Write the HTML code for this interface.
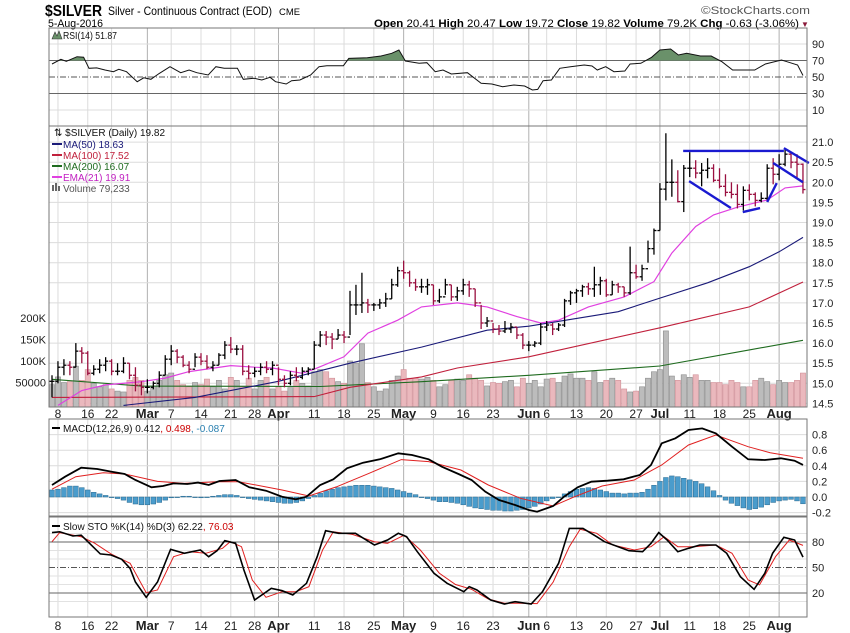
<!DOCTYPE html>
<html><head><meta charset="utf-8"><style>
html,body{margin:0;padding:0;background:#fff;width:850px;height:633px;overflow:hidden}
svg{display:block}
text{font-family:"Liberation Sans",sans-serif}
</style></head><body>
<svg id="chart" width="850" height="633" viewBox="0 0 850 633" xmlns="http://www.w3.org/2000/svg">
<g id="header">
<text x="45" y="16" font-size="16" font-weight="bold" textLength="57" lengthAdjust="spacingAndGlyphs">$SILVER</text>
<text x="108" y="15" font-size="12" textLength="164" lengthAdjust="spacingAndGlyphs">Silver - Continuous Contract (EOD)</text>
<text x="279" y="15" font-size="9" textLength="21" lengthAdjust="spacingAndGlyphs">CME</text>
<text x="48" y="27" font-size="11" textLength="55" lengthAdjust="spacingAndGlyphs">5-Aug-2016</text>
<text x="701" y="14" font-size="11" fill="#555" textLength="109" lengthAdjust="spacingAndGlyphs">©StockCharts.com</text>
<text x="374" y="27" font-size="11" textLength="425" lengthAdjust="spacingAndGlyphs"><tspan font-weight="bold">Open</tspan> 20.41 <tspan font-weight="bold">High</tspan> 20.47 <tspan font-weight="bold">Low</tspan> 19.72 <tspan font-weight="bold">Close</tspan> 19.82 <tspan font-weight="bold">Volume</tspan> 79.2K <tspan font-weight="bold">Chg</tspan> -0.63 (-3.06%)</text>
<text x="801" y="27" font-size="8" fill="#8b1a3a">▼</text>
</g>
<g id="grid"></g>
<g id="panes"></g>
<g id="marks"></g>
<g id="labels"></g>
</svg>
<script>
// ---------- data ----------
const priceHigh=[15.2,15.55,15.6,15.55,16.0,15.9,15.8,15.45,15.6,15.65,15.6,15.5,15.65,15.5,15.4,15.05,
15.1,15.05,15.3,15.7,15.95,15.85,15.7,15.55,15.75,15.75,15.7,15.55,15.75,16.05,16.15,15.95,15.95,15.45,15.4,15.5,15.55,15.55,
15.4,15.2,15.3,15.4,15.4,15.4,16.05,16.3,16.3,16.25,16.35,16.3,17.3,17.45,17.75,17.1,17.0,17.1,17.25,17.6,17.9,
18.05,17.8,17.6,17.6,17.6,17.45,17.35,17.6,17.45,17.4,17.6,17.55,17.35,16.95,16.65,16.5,16.45,16.55,16.5,16.4,16.25,
16.05,16.05,16.5,16.55,16.5,16.5,17.1,17.3,17.35,17.45,17.5,17.9,17.65,17.6,17.55,17.5,17.4,18.4,17.95,17.95,18.55,18.85,
19.98,21.22,20.57,20.3,20.43,20.75,20.55,20.48,20.6,20.45,20.35,20.2,20.0,19.95,19.9,19.95,19.75,19.75,20.45,20.6,
20.7,20.85,20.75,20.7,20.47];
const priceLow=[14.65,15.0,15.2,15.2,15.4,15.5,15.2,15.2,15.25,15.3,15.2,15.2,15.25,15.1,14.8,14.7,
14.75,14.85,14.9,15.2,15.45,15.5,15.4,15.25,15.4,15.45,15.35,15.3,15.45,15.6,15.75,15.7,15.2,15.1,15.15,15.2,15.25,15.2,
14.95,14.9,14.95,15.05,15.1,15.2,15.35,15.9,15.95,15.85,16.1,16.0,16.2,16.7,16.75,16.75,16.8,16.85,16.9,17.1,17.4,
17.6,17.4,17.3,17.25,17.2,16.95,17.0,17.2,17.05,17.05,17.2,17.15,16.9,16.35,16.4,16.25,16.2,16.25,16.25,16.1,15.85,
15.8,15.9,15.95,16.3,16.2,16.3,16.4,16.95,17.0,17.15,17.2,17.15,17.2,17.15,17.2,17.25,17.15,17.2,17.6,17.55,18.0,18.2,
18.8,19.55,19.64,19.5,19.26,20.13,20.1,19.9,20.1,20.0,19.85,19.65,19.6,19.35,19.3,19.55,19.4,19.5,19.55,19.95,
20.05,20.4,20.35,20.1,19.72];
const priceClose=[15.05,15.4,15.45,15.4,15.8,15.75,15.25,15.35,15.45,15.55,15.3,15.3,15.5,15.2,14.95,14.9,
14.9,15.0,15.2,15.6,15.8,15.65,15.45,15.35,15.65,15.55,15.4,15.45,15.7,15.95,15.85,15.85,15.3,15.25,15.3,15.4,15.35,15.45,
15.1,15.0,15.2,15.15,15.3,15.35,15.95,16.2,16.15,16.1,16.2,16.15,16.95,16.95,17.0,16.95,16.95,17.0,17.1,17.45,17.8,
17.75,17.5,17.4,17.4,17.45,17.05,17.15,17.45,17.15,17.3,17.45,17.35,17.0,16.5,16.55,16.35,16.3,16.35,16.4,16.2,15.95,
15.95,16.0,16.4,16.45,16.35,16.45,17.05,17.25,17.3,17.4,17.35,17.45,17.55,17.2,17.45,17.4,17.25,17.75,17.65,17.85,18.35,18.8,
19.83,20.0,20.0,19.52,20.35,20.35,20.23,20.3,20.35,20.05,19.9,19.75,19.7,19.45,19.8,19.7,19.55,19.6,20.35,20.2,
20.45,20.7,20.5,20.45,19.82];
const volumeK=[45,63,50,52,88,55,80,48,40,45,35,30,28,55,62,55,
30,42,55,68,72,55,45,40,50,45,58,40,55,35,62,55,40,60,35,55,62,35,
40,30,38,55,48,42,75,80,75,60,52,48,100,95,140,50,40,30,35,55,65,
80,60,60,58,62,55,40,45,55,58,55,68,60,55,42,50,48,52,55,40,60,
48,55,40,58,60,50,65,70,60,60,55,75,50,55,60,55,35,28,30,40,60,75,
80,170,65,55,68,62,68,55,55,50,50,45,55,50,40,40,55,60,52,45,
55,50,50,55,72];
const ma50Idx=[12,24,38,50,62,73,80,95,102,110,117,122,126];
const ma50Val=[14.45,14.65,15.05,15.5,15.9,16.32,16.42,16.78,17.12,17.5,17.9,18.27,18.63];
const ma100Idx=[0,44,50,62,68,80,102,117,126];
const ma100Val=[14.65,14.67,14.9,15.16,15.38,15.66,16.38,16.9,17.52];
const ma200Idx=[0,15,45,62,80,102,117,126];
const ma200Val=[15.1,14.93,14.92,15.04,15.2,15.43,15.83,16.07];
const emaIdx=[1,5,9,15,19,23,30,34,37,42,44,49,53,58,62,68,73,78,82,85,90,96,101,104,108,111,115,120,123,126];
const emaVal=[14.45,14.82,14.96,15.04,15.13,15.29,15.44,15.4,15.38,15.25,15.35,15.66,16.25,16.57,16.9,17.0,16.9,16.66,16.5,16.57,16.9,17.15,17.53,18.24,18.9,19.19,19.38,19.56,19.86,19.91];
const rsiIdx=[0,1.5,2.4,4.2,5.3,6.2,7.5,8.9,10.3,11.2,12.5,14.3,15.4,16.6,18,19.8,21.6,23,24.3,26.2,27.5,28.9,31.1,32.1,33.9,35.2,36.6,37.5,39.3,40.2,41.6,43.4,44.8,46.1,48.9,49.8,52.9,55.2,57,58.2,59.3,61.6,62.9,64.3,65.6,67,69.7,72,73.8,75.6,77.5,79.3,80.6,81.5,82.4,83.8,85.2,87,89.3,90.6,91.5,92.9,94.3,96.1,97,98.8,100.6,102,103.8,105.1,106.5,108.8,110.6,112.4,114.2,116,117.9,119.7,122.4,123.3,125.1,126];
const rsiVal=[65.8,71.5,69,74.6,74,60.5,61,58.5,56.4,59.3,56.4,44.3,49,47.2,54.4,62.5,55.2,58.5,55.2,52.4,62.5,60.5,60.5,47.2,48.4,46.4,49.6,44.3,41.5,45.5,46.4,52.4,62.5,63.7,63.7,72.6,73.4,75.5,78.7,82.7,69.4,66.6,67.3,56.4,58.5,53.6,55.2,42.4,41.5,38.3,40.3,39.1,34.2,35,45.5,46.4,60.5,62.5,64.5,63.3,58.5,62.5,56.4,57.3,65.8,66.6,73.9,82.7,84,76.7,78.7,75.5,75.5,68.6,58.5,58.5,58.5,65.8,70.6,68.6,64.5,51.87];
const macdIdx=[0,2.2,4.9,7.6,9.9,12.2,14,16.7,18.6,20.4,22.7,24.5,26.3,28.1,30.8,33.1,35.9,38.6,40.9,42.7,45,47.2,49.5,52.2,55,58.1,60.4,63.2,65.4,68.2,70.4,72.7,75,77.7,80,81.4,84.1,85.9,88.2,90.5,93.2,95.9,98.6,100.5,102.3,104.6,106.8,109.1,111.4,114.1,116.8,119.6,122.3,124.6,126];
const macdVal=[0.154,0.26,0.376,0.359,0.325,0.295,0.218,0.124,0.141,0.175,0.167,0.184,0.154,0.205,0.218,0.124,0.081,0.004,-0.03,0.004,0.154,0.227,0.368,0.44,0.483,0.56,0.538,0.483,0.389,0.295,0.218,0.068,-0.038,-0.103,-0.167,-0.188,-0.115,0.004,0.124,0.196,0.209,0.227,0.282,0.41,0.688,0.752,0.859,0.88,0.816,0.645,0.483,0.474,0.496,0.465,0.412];
const signalIdx=[0,4,8.6,12.2,17.7,22.2,27.7,31.3,38.6,43.1,47.7,53.1,58.6,63.2,68.6,73.2,78.6,84.1,87.7,92.3,97.7,102.3,106.8,111.4,116.8,120.5,126];
const signalVal=[0.10,0.26,0.31,0.295,0.2,0.175,0.196,0.196,0.09,0.013,0.13,0.3,0.48,0.454,0.346,0.154,-0.017,-0.115,0.004,0.141,0.218,0.41,0.667,0.795,0.645,0.568,0.498];
const histVal=[0.09,0.1,0.12,0.14,0.14,0.12,0.09,0.06,0.04,0.02,0.0,-0.02,-0.04,-0.07,-0.09,-0.1,
-0.1,-0.09,-0.07,-0.04,-0.01,0,0.01,0.01,0,-0.01,0,0.01,0.02,0.03,0.03,0.02,0,-0.02,-0.03,-0.04,-0.05,-0.06,
-0.07,-0.08,-0.08,-0.07,-0.05,-0.02,0.02,0.05,0.08,0.1,0.12,0.13,0.14,0.15,0.15,0.15,0.14,0.13,0.12,0.11,0.09,
0.07,0.05,0.03,0.0,-0.02,-0.04,-0.06,-0.06,-0.07,-0.08,-0.1,-0.12,-0.14,-0.15,-0.16,-0.17,-0.17,-0.18,-0.18,-0.17,-0.16,
-0.14,-0.12,-0.09,-0.05,-0.02,0.0,0.04,0.07,0.1,0.11,0.12,0.11,0.09,0.07,0.05,0.05,0.04,0.05,0.05,0.06,0.1,0.15,
0.2,0.25,0.27,0.26,0.24,0.22,0.2,0.17,0.13,0.08,0.02,-0.04,-0.08,-0.11,-0.14,-0.16,-0.15,-0.13,-0.1,-0.07,
-0.05,-0.04,-0.03,-0.05,-0.087];
const stoKIdx=[0,1.3,3.5,4.9,6.3,8.1,9.9,11.7,13.1,14,15.8,17.7,19.9,22.2,24.9,26.3,27.7,29,30.8,32.2,34,36.8,38.6,40.4,42.7,44.5,45.9,48.1,50.9,54.1,56.3,58.1,59.5,61.3,64.1,66.3,69.1,70,71.3,73.6,75.9,77.7,80.4,82.3,85,86.8,89.1,91.4,92.7,95,96.8,99.1,100.5,101.8,103.2,105,106.8,108.7,111.4,113.2,115.5,117.8,119.6,120.9,122.8,124.6,126];
const stoKVal=[91,92,87,88,78.5,66,64.7,59.6,49,33,15,33,71.4,66.7,70.6,62.7,69.8,81.5,78.5,47,11.8,25.5,22.7,17.6,31.4,62.7,93.3,90.2,90.2,76.5,82.4,90.2,86.2,68.6,43.2,31.4,21.5,27.4,23.5,11.8,7,9.8,7,21.5,54.9,96,96,86.2,80.4,74.5,69.8,68.6,78.5,91,82.4,68.6,72.6,76.5,76.5,66.7,39.2,24.4,43.2,66.7,85.5,82.4,62.22];
const stoDIdx=[0,1.3,4.9,7.2,9.9,13.1,15.8,17.7,20.4,23.1,25.8,28.6,29.9,31.8,33.6,35.9,38.6,40.9,43.1,45.4,47.2,50.4,54.1,56.3,59.1,61.8,65,67.7,70.4,73.2,75.9,78.6,81.4,84.1,86.8,88.6,91.4,94.1,97.7,100.5,102.7,105,107.7,111.4,114.1,116.8,118.7,121.4,123.7,126];
const stoDVal=[80.4,91,86.2,78.5,66,55,20.4,23.5,62.7,68.6,66.7,72.6,80.4,74.5,35.3,15,21.5,21.5,27.4,70.6,92,89,80.4,78.5,88,70.6,43.2,30,24.4,13,8,8,7.5,33,74.5,95,90.2,76.5,70.6,74.5,86.2,74.5,74.5,76.5,66.7,35.3,29.5,62.7,82.4,76.03];
const dateTickIdx=[1,6,10,16,20,25,30,34,38,44,49,54,59,64,69,74,80,83,88,93,98,102,107,112,117,122];
const dateTickText=["8","16","22","Mar","7","14","21","28","Apr","11","18","25","May","9","16","23","Jun","6","13","20","27","Jul","11","18","25","Aug"];
const priceTicks=[14.5,15.0,15.5,16.0,16.5,17.0,17.5,18.0,18.5,19.0,19.5,20.0,20.5,21.0];
const volTicks=[50,100,150,200];
const volTickText=["50000","100K","150K","200K"];
const rsiTicks=[10,30,50,70,90];
const macdTicks=[-0.2,0,0.2,0.4,0.6,0.8];
const stoTicks=[20,50,80];
// annotation trendlines: [startIdx,startPrice,endIdx,endPrice]
const trendStartIdx=[105.9,122.8,106.9,115.9,120,121];
const trendStartPx=[20.78,20.85,20.03,19.26,19.51,20.48];
const trendEndIdx=[122.8,127,113.9,118.8,121.6,126];
const trendEndPx=[20.78,20.48,19.36,19.36,19.98,20.0];

// ---------- layout / axes ----------
const L=49,R=807;
const P={rsi:[28,126],price:[126,407],macd:[419,516],sto:[517,617]};
const bx=i=>52+i*5.96;
const py=p=>182.3-(p-20)*40.2;
const ry=v=>77-(v-50)*0.825;
const my=v=>497-v*78;
const sy=v=>567.5-(v-50)*0.85;
const vy=k=>404-k*0.43;
const NS="http://www.w3.org/2000/svg";
function mk(tag,attrs,parent){const e=document.createElementNS(NS,tag);for(const k in attrs)e.setAttribute(k,attrs[k]);parent.appendChild(e);return e;}
const gGrid=document.getElementById('grid'),gPanes=document.getElementById('panes'),gMarks=document.getElementById('marks'),gLab=document.getElementById('labels');
const months=new Set(["Mar","Apr","May","Jun","Jul","Aug"]);

// pane backgrounds & grid
for(const key in P){
  const [t,b]=P[key];
  // vertical grid
  dateTickIdx.forEach((di,j)=>{
    const ln=mk('line',{x1:bx(di),x2:bx(di),y1:t,y2:b,stroke:months.has(dateTickText[j])?'#b0b0b0':'#dcdcdc','stroke-width':1},gGrid);
    
    
  });
}
priceTicks.forEach(p=>{
  const ln=mk('line',{x1:L,x2:R,y1:py(p),y2:py(p),stroke:'#dcdcdc'},gGrid);
  
  
  const tx=mk('text',{x:812,y:py(p)+4,'font-size':11,fill:'#222'},gLab);tx.textContent=p.toFixed(1);
  
  
});
volTicks.forEach((k,j)=>{
  const tx=mk('text',{x:46,y:vy(k)+4,'font-size':11,'text-anchor':'end',fill:'#222'},gLab);tx.textContent=volTickText[j];
  
  
});
rsiTicks.forEach(v=>{
  const strong=(v===30||v===70);
  const ln=mk('line',{x1:L,x2:R,y1:ry(v),y2:ry(v),stroke:strong?'#666':(v===50?'#555':'#dcdcdc'),'stroke-dasharray':v===50?'6,2,1,2':'none'},gGrid);
  
  
  const tx=mk('text',{x:812,y:ry(v)+4,'font-size':11,fill:'#222'},gLab);tx.textContent=v;
  
  
});
macdTicks.forEach(v=>{
  const ln=mk('line',{x1:L,x2:R,y1:my(v),y2:my(v),stroke:'#dcdcdc'},gGrid);
  
  
  const tx=mk('text',{x:812,y:my(v)+4,'font-size':11,fill:'#222'},gLab);tx.textContent=v.toFixed(1);
  
  
});
[10,30,40,60,70,90].forEach(v=>{
  const ln=mk('line',{x1:L,x2:R,y1:sy(v),y2:sy(v),stroke:'#e2e2e2'},gGrid);
  
  
});
stoTicks.forEach(v=>{
  const ln=mk('line',{x1:L,x2:R,y1:sy(v),y2:sy(v),stroke:v===50?'#555':'#666','stroke-dasharray':v===50?'6,2,1,2':'none'},gGrid);
  
  
  const tx=mk('text',{x:812,y:sy(v)+4,'font-size':11,fill:'#222'},gLab);tx.textContent=v;
  
  
});
// date labels (two rows)
[418,630].forEach(yy=>{
  dateTickIdx.forEach((di,j)=>{
    const m=months.has(dateTickText[j]);
    const tx=mk('text',{x:bx(di),y:yy,'font-size':m?13:12,'font-weight':m?'bold':'normal','text-anchor':'middle',fill:'#222'},gLab);
    tx.textContent=dateTickText[j];
    
    
  });
});

// volume bars
const up=i=>i===0?true:priceClose[i]>=priceClose[i-1];
volumeK.forEach((k,i)=>{
  const r=mk('rect',{x:bx(i)-2.6,y:vy(k),width:5.2,height:407-vy(k),fill:up(i)?'#bcbcbc':'#eab8bd',stroke:up(i)?'#8c8c8c':'#d09098','stroke-width':0.6},gMarks);
  
  
});
// line helper
function path(idx,val,yf){return idx.map((d,j)=>(j?'L':'M')+bx(d).toFixed(1)+','+yf(val[j]).toFixed(1)).join('');}
const ma200=mk('path',{d:path(ma200Idx,ma200Val,py),fill:'none',stroke:'#1f6b1f','stroke-width':1.1},gMarks);


const ma100=mk('path',{d:path(ma100Idx,ma100Val,py),fill:'none',stroke:'#c0203c','stroke-width':1.1},gMarks);


const ma50=mk('path',{d:path(ma50Idx,ma50Val,py),fill:'none',stroke:'#1a1a78','stroke-width':1.1},gMarks);


const ema=mk('path',{d:path(emaIdx,emaVal,py),fill:'none',stroke:'#e040e0','stroke-width':1.2},gMarks);


// price bars
priceClose.forEach((c,i)=>{
  const o=i===0?c:priceClose[i-1];
  const col=up(i)?'#000':'#9a1040';
  const g=mk('g',{stroke:col,'stroke-width':1.3},gMarks);
  
  
  const x=bx(i);
  mk('line',{x1:x,x2:x,y1:py(priceHigh[i]),y2:py(priceLow[i])},g);
  mk('line',{x1:x-2.5,x2:x,y1:py(o),y2:py(o)},g);
  mk('line',{x1:x,x2:x+2.5,y1:py(c),y2:py(c)},g);
});
// trendlines
trendStartIdx.forEach((s,j)=>{
  const ln=mk('line',{x1:bx(s),y1:py(trendStartPx[j]),x2:bx(trendEndIdx[j]),y2:py(trendEndPx[j]),stroke:'#1a1ad0','stroke-width':2.4},gMarks);
  
  
});
// RSI fill above 70
const defs=mk('defs',{},gMarks);
const cp=mk('clipPath',{id:'above70'},defs);
mk('rect',{x:L,y:P.rsi[0],width:R-L,height:ry(70)-P.rsi[0]},cp);
const rsiD=path(rsiIdx,rsiVal,ry);
const rsiFill=mk('path',{d:rsiD+'L'+bx(126)+','+ry(70)+'L'+bx(0)+','+ry(70)+'Z',fill:'#6a916a','clip-path':'url(#above70)'},gMarks);


const rsiLine=mk('path',{d:rsiD,fill:'none',stroke:'#111','stroke-width':1},gMarks);


// MACD
histVal.forEach((h,i)=>{
  const r=mk('rect',{x:bx(i)-2.4,y:Math.min(my(h),my(0)),width:4.8,height:Math.max(0.6,Math.abs(my(h)-my(0))),fill:'#4a9ccc',stroke:'#2a6a90','stroke-width':0.5},gMarks);
  
  
});
const sig=mk('path',{d:path(signalIdx,signalVal,my),fill:'none',stroke:'#e02020','stroke-width':1},gMarks);


const macd=mk('path',{d:path(macdIdx,macdVal,my),fill:'none',stroke:'#000','stroke-width':1.8},gMarks);


// Stochastic
const sd=mk('path',{d:path(stoDIdx,stoDVal,sy),fill:'none',stroke:'#e02020','stroke-width':1},gMarks);


const sk=mk('path',{d:path(stoKIdx,stoKVal,sy),fill:'none',stroke:'#000','stroke-width':1.6},gMarks);


// pane borders
for(const key in P){
  const [t,b]=P[key];
  const r=mk('rect',{x:L,y:t,width:R-L,height:b-t,fill:'none',stroke:'#777','stroke-width':1},gPanes);
  
  
}
gPanes.parentNode.appendChild(gPanes);
</script>
<svg width="0" height="0" style="position:absolute"></svg>
<div style="position:absolute;left:0;top:0;width:850px;height:633px;pointer-events:none">
<svg width="850" height="633" style="position:absolute;left:0;top:0">
<g font-family="DejaVu Sans, sans-serif" font-size="10">
<g><path d="M52,39 L55,32 L57,36 L59,31 L62,39 Z" fill="#6a916a" stroke="#333" stroke-width="0.6"/><text x="63" y="39" fill="#111" textLength="54" lengthAdjust="spacingAndGlyphs">RSI(14) 51.87</text></g>
<g>
<text x="54" y="136" fill="#111">⇅ $SILVER (Daily) 19.82</text>
<line x1="52" x2="62" y1="144" y2="144" stroke="#1a1a78" stroke-width="2"/><text x="63" y="148" fill="#1a1a78">MA(50) 18.63</text>
<line x1="52" x2="62" y1="155" y2="155" stroke="#c0203c" stroke-width="2"/><text x="63" y="159" fill="#c0203c">MA(100) 17.52</text>
<line x1="52" x2="62" y1="166" y2="166" stroke="#1f6b1f" stroke-width="2"/><text x="63" y="170" fill="#1f6b1f">MA(200) 16.07</text>
<line x1="52" x2="62" y1="177" y2="177" stroke="#e040e0" stroke-width="2"/><text x="63" y="181" fill="#c020c0">EMA(21) 19.91</text>
<rect x="52" y="185" width="2" height="6" fill="#666"/><rect x="55" y="183" width="2" height="8" fill="#666"/><rect x="58" y="186" width="2" height="5" fill="#666"/><text x="63" y="192" fill="#555">Volume 79,233</text>
</g>
<g><line x1="52" x2="60" y1="428" y2="428" stroke="#000" stroke-width="2"/><text x="63" y="432" fill="#111">MACD(12,26,9) 0.412<tspan fill="#c00">, 0.498</tspan><tspan fill="#2a80b0">, -0.087</tspan></text></g>
<g><line x1="52" x2="60" y1="526" y2="526" stroke="#000" stroke-width="2"/><text x="63" y="530" fill="#111">Slow STO %K(14) %D(3) 62.22<tspan fill="#c00">, 76.03</tspan></text></g>
</g></svg></div>
</body></html>
